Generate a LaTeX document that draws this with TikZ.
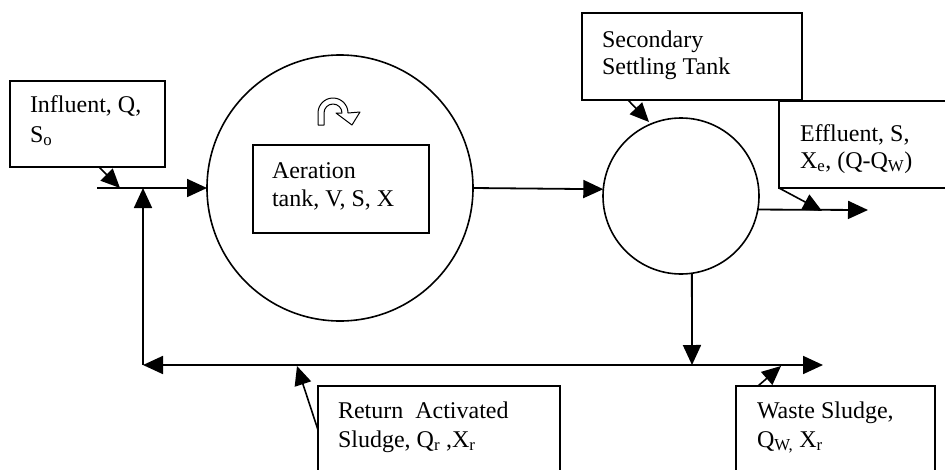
\documentclass[tikz,border=0pt]{standalone}
\usepackage{fontspec}
\setmainfont{Liberation Serif}
\usetikzlibrary{arrows.meta}
\begin{document}
\begin{tikzpicture}[x=1pt,y=1pt,
  every node/.style={inner sep=0pt, outer sep=0pt},
  lbl/.style={anchor=base west, font=\fontsize{24}{29}\selectfont},
  boxnode/.style={draw, line width=1.7pt, rectangle, anchor=north west},
  tank/.style={draw, line width=1.6pt, circle},
  flow/.style={line width=1.8pt, -{Triangle[length=20pt,width=18pt]}},
  callout/.style={line width=1.6pt, -{Triangle[length=19pt,width=17pt]}}]
\clip (0,0) rectangle (945,-469);
\fill[white] (0,0) rectangle (945,-469);

% tanks
\node[tank, minimum size=266pt] (aer) at (340,-188) {};
\node[tank, minimum size=156pt] (settle) at (681,-196) {};

% boxes
\node[boxnode, minimum width=155pt, minimum height=86pt] (infbox) at (10,-81) {};
\node[boxnode, minimum width=176pt, minimum height=88pt] (aerbox) at (253,-145) {};
\node[boxnode, minimum width=220pt, minimum height=87pt] (secbox) at (582,-13) {};
\node[boxnode, minimum width=190pt, minimum height=87pt] (effbox) at (779,-101) {};
\node[boxnode, minimum width=242pt, minimum height=100pt] (retbox) at (318,-386) {};
\node[boxnode, minimum width=199pt, minimum height=100pt] (wastebox) at (736,-386) {};

% texts
\node[lbl] (t1a) at (30,-112) {Influent, Q,};
\node[lbl] (t1b) at (30,-142) {S\textsubscript{o}};
\node[lbl] (t2a) at (272,-178) {Aeration};
\node[lbl] (t2b) at (272,-206) {tank, V, S, X};
\node[lbl] (t3a) at (602,-47) {Secondary};
\node[lbl] (t3b) at (602,-74) {Settling Tank};
\node[lbl] (t4a) at (800,-141) {Effluent, S,};
\node[lbl] (t4b) at (800,-168) {X\textsubscript{e}, (Q-Q\textsubscript{W})};
\node[lbl] (t5a) at (338,-418) {Return\ \ Activated};
\node[lbl] (t5b) at (338,-447) {Sludge, Q\textsubscript{r} ,X\textsubscript{r}};
\node[lbl] (t6a) at (757,-418) {Waste Sludge,};
\node[lbl] (t6b) at (757,-447) {Q\textsubscript{W,} X\textsubscript{r}};

% coordinates
\coordinate (inStart) at (97,-188);
\coordinate (inJoin) at (143,-188);
\coordinate (retCorner) at (143,-365);
\coordinate (split) at (692,-365);
\coordinate (wasteEnd) at (823,-365);
\coordinate (effEnd) at (868,-210);
\coordinate (inTip) at (120,-188);
\coordinate (secTip) at (649,-122);
\coordinate (effTip) at (822,-211);
\coordinate (retTip) at (297,-366);
\coordinate (wasteTip) at (781,-366);

% main flow
\draw[flow] (inStart) -- (aer.west);
\draw[flow] (aer.east) -- (settle.175);
\draw[flow] (settle.-10.3) -- (effEnd);
\draw[flow] (settle.-82) -- (split);
\draw[flow] (split) -- (wasteEnd);
\draw[flow] (split) -- (retCorner);
\draw[flow] (retCorner) -- (inJoin);

% callouts
\draw[callout] (infbox.south west) ++(89,0) coordinate (c1) -- (inTip);
\draw[callout] (secbox.south west) ++(46,0) coordinate (c2) -- (secTip);
\draw[callout] (effbox.south west) -- (effTip);
\draw[callout] (retbox.north west) ++(0,-44) coordinate (c4) -- (retTip);
\draw[callout] (wastebox.north west) ++(22,0) coordinate (c5) -- (wasteTip);

% mixer symbol
\draw[line width=1pt, fill=white, line join=round]
  (318,-125) -- (318,-113) arc[start angle=180, end angle=0, radius=15]
  -- (360,-112) -- (352,-125) -- (336,-113) -- (342,-113)
  arc[start angle=0, end angle=180, radius=9] -- (324,-125) -- cycle;
\end{tikzpicture}
\end{document}
